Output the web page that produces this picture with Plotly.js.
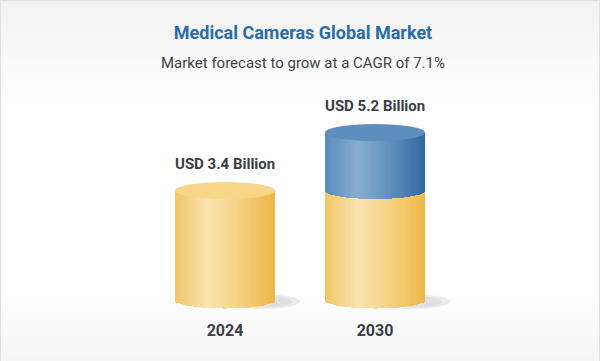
<!DOCTYPE html>
<html>
<head>
<meta charset="utf-8">
<script src="https://cdn.plot.ly/plotly-3.0.1.min.js"></script>
<style>
  html, body { margin: 0; padding: 0; background: #ffffff; }
  #card {
    position: absolute; left: 0; top: 0; width: 600px; height: 361px;
    box-sizing: border-box;
    border-top: 1px solid #dedede; border-left: 1px solid #dedede; border-right: 1px solid #dedede;
    background: linear-gradient(to bottom, #f1f1f1 0%, #fafafa 18%, #ffffff 30%, #ffffff 80%, #f5f5f5 100%);
  }
  #chart { position: absolute; left: 0; top: 0; width: 606px; height: 361px; }
</style>
</head>
<body>
<div id="card"></div>
<div id="chart"></div>
<script>
// ---- data ----
const years = ['2024', '2030'];
const marketValue = [3.4, 5.2];          // USD billion
const baseSeries = [3.4, 3.4];           // 2024 market level shown in yellow
const growthSeries = [0, 1.8];           // growth on top (blue)
const titleText = 'Medical Cameras Global Market';
const subtitleText = 'Market forecast to grow at a CAGR of 7.1%';
const labelPrefix = 'USD ';
const labelSuffix = ' Billion';

// ---- style ----
const N = 60;                 // shading strips per cylinder
const cylW = 0.6667;          // cylinder width (x units)
const rx = cylW / 2;
const ry = 0.264;             // ellipse half-height (y units)
const yellowStops = [[0, [240, 198, 102]], [0.33, [250, 227, 176]], [0.66, [245, 209, 128]], [1, [239, 182, 72]]];
const blueStops = [[0, [88, 139, 188]], [0.33, [136, 174, 209]], [0.66, [95, 143, 190]], [1, [49, 104, 158]]];
const textColor = '#3a3d45';
const FONT = 'Roboto, "Open Sans", Arial, sans-serif';

function grad(stops, t) {
  for (let i = 0; i < stops.length - 1; i++) {
    const [t0, c0] = stops[i], [t1, c1] = stops[i + 1];
    if (t >= t0 && t <= t1) {
      const f = (t - t0) / (t1 - t0);
      const c = c0.map((v, k) => Math.round(v + (c1[k] - v) * f));
      return 'rgb(' + c.join(',') + ')';
    }
  }
  return 'rgb(' + stops[stops.length - 1][1].join(',') + ')';
}

const traces = [];
const shapes = [];
const annotations = [];

years.forEach((yr, ci) => {
  const xc = ci;
  const segs = [
    { bottom: 0, top: baseSeries[ci], stops: yellowStops, isTop: growthSeries[ci] === 0 },
  ];
  if (growthSeries[ci] > 0) {
    segs.push({ bottom: baseSeries[ci], top: baseSeries[ci] + growthSeries[ci], stops: blueStops, isTop: true });
  }
  // shadow
  shapes.push({ type: 'circle', xref: 'x', yref: 'y', layer: 'below',
    x0: xc + 0.02, x1: xc + 0.5, y0: -0.27, y1: 0.17,
    fillcolor: 'rgba(200,200,200,0.35)', line: { width: 0 } });
  shapes.push({ type: 'circle', xref: 'x', yref: 'y', layer: 'below',
    x0: xc + 0.06, x1: xc + 0.45, y0: -0.22, y1: 0.12,
    fillcolor: 'rgba(200,200,200,0.35)', line: { width: 0 } });

  segs.forEach(seg => {
    const xs = [], lens = [], bases = [], cols = [];
    for (let i = 0; i < N; i++) {
      const t = (i + 0.5) / N;
      const x = xc - rx + t * cylW;
      const dx = (x - xc) / rx;
      const d = ry * Math.sqrt(Math.max(0, 1 - dx * dx));
      const b = seg.bottom - d;
      const top = seg.isTop ? seg.top : seg.top - d;
      xs.push(x); bases.push(b); lens.push(top - b); cols.push(grad(seg.stops, t));
    }
    traces.push({
      type: 'bar', x: xs, y: lens, base: bases, width: cylW / N * 1.25,
      marker: { color: cols, line: { width: 0 } },
      hoverinfo: 'skip', showlegend: false
    });
  });
  // top cap
  const topV = marketValue[ci];
  shapes.push({ type: 'circle', xref: 'x', yref: 'y', layer: 'above',
    x0: xc - rx, x1: xc + rx, y0: topV - ry, y1: topV + ry,
    fillcolor: growthSeries[ci] > 0 ? '#5e8ebd' : '#f7d689', line: { width: 0 } });
  annotations.push({ x: xc, y: topV, xref: 'x', yref: 'y', yshift: 27, showarrow: false,
    text: '<b>' + labelPrefix + topV.toFixed(1) + labelSuffix + '</b>',
    font: { family: FONT, size: 15, color: textColor } });
});

annotations.push({ xref: 'paper', yref: 'paper', x: 0.5, y: (316 - 63) / 316, yanchor: 'middle',
  showarrow: false, text: subtitleText, font: { family: FONT, size: 15, color: '#3c3f47' } });

const layout = {
  width: 606, height: 361,
  margin: { l: 0, r: 0, t: 0, b: 45 },
  paper_bgcolor: 'rgba(0,0,0,0)', plot_bgcolor: 'rgba(0,0,0,0)',
  barmode: 'overlay', bargap: 0,
  title: { text: '<b>' + titleText + '</b>', x: 0.5, xanchor: 'center', yref: 'container',
    y: 1 - 33 / 361, yanchor: 'middle', font: { family: FONT, size: 18, color: '#2b6ca8' } },
  xaxis: { range: [-1.5, 2.54], tickvals: [0, 1], ticktext: years.map(y => '<b>' + y + '</b>'),
    showgrid: false, zeroline: false, showline: false, ticks: '', ticklabelstandoff: 3,
    tickfont: { family: FONT, size: 16, color: textColor }, fixedrange: true },
  yaxis: { range: [-0.497, 9.317], visible: false, showgrid: false, zeroline: false, fixedrange: true },
  shapes: shapes, annotations: annotations, showlegend: false
};

Plotly.newPlot('chart', traces, layout, { displayModeBar: false, staticPlot: true });
</script>
</body>
</html>
